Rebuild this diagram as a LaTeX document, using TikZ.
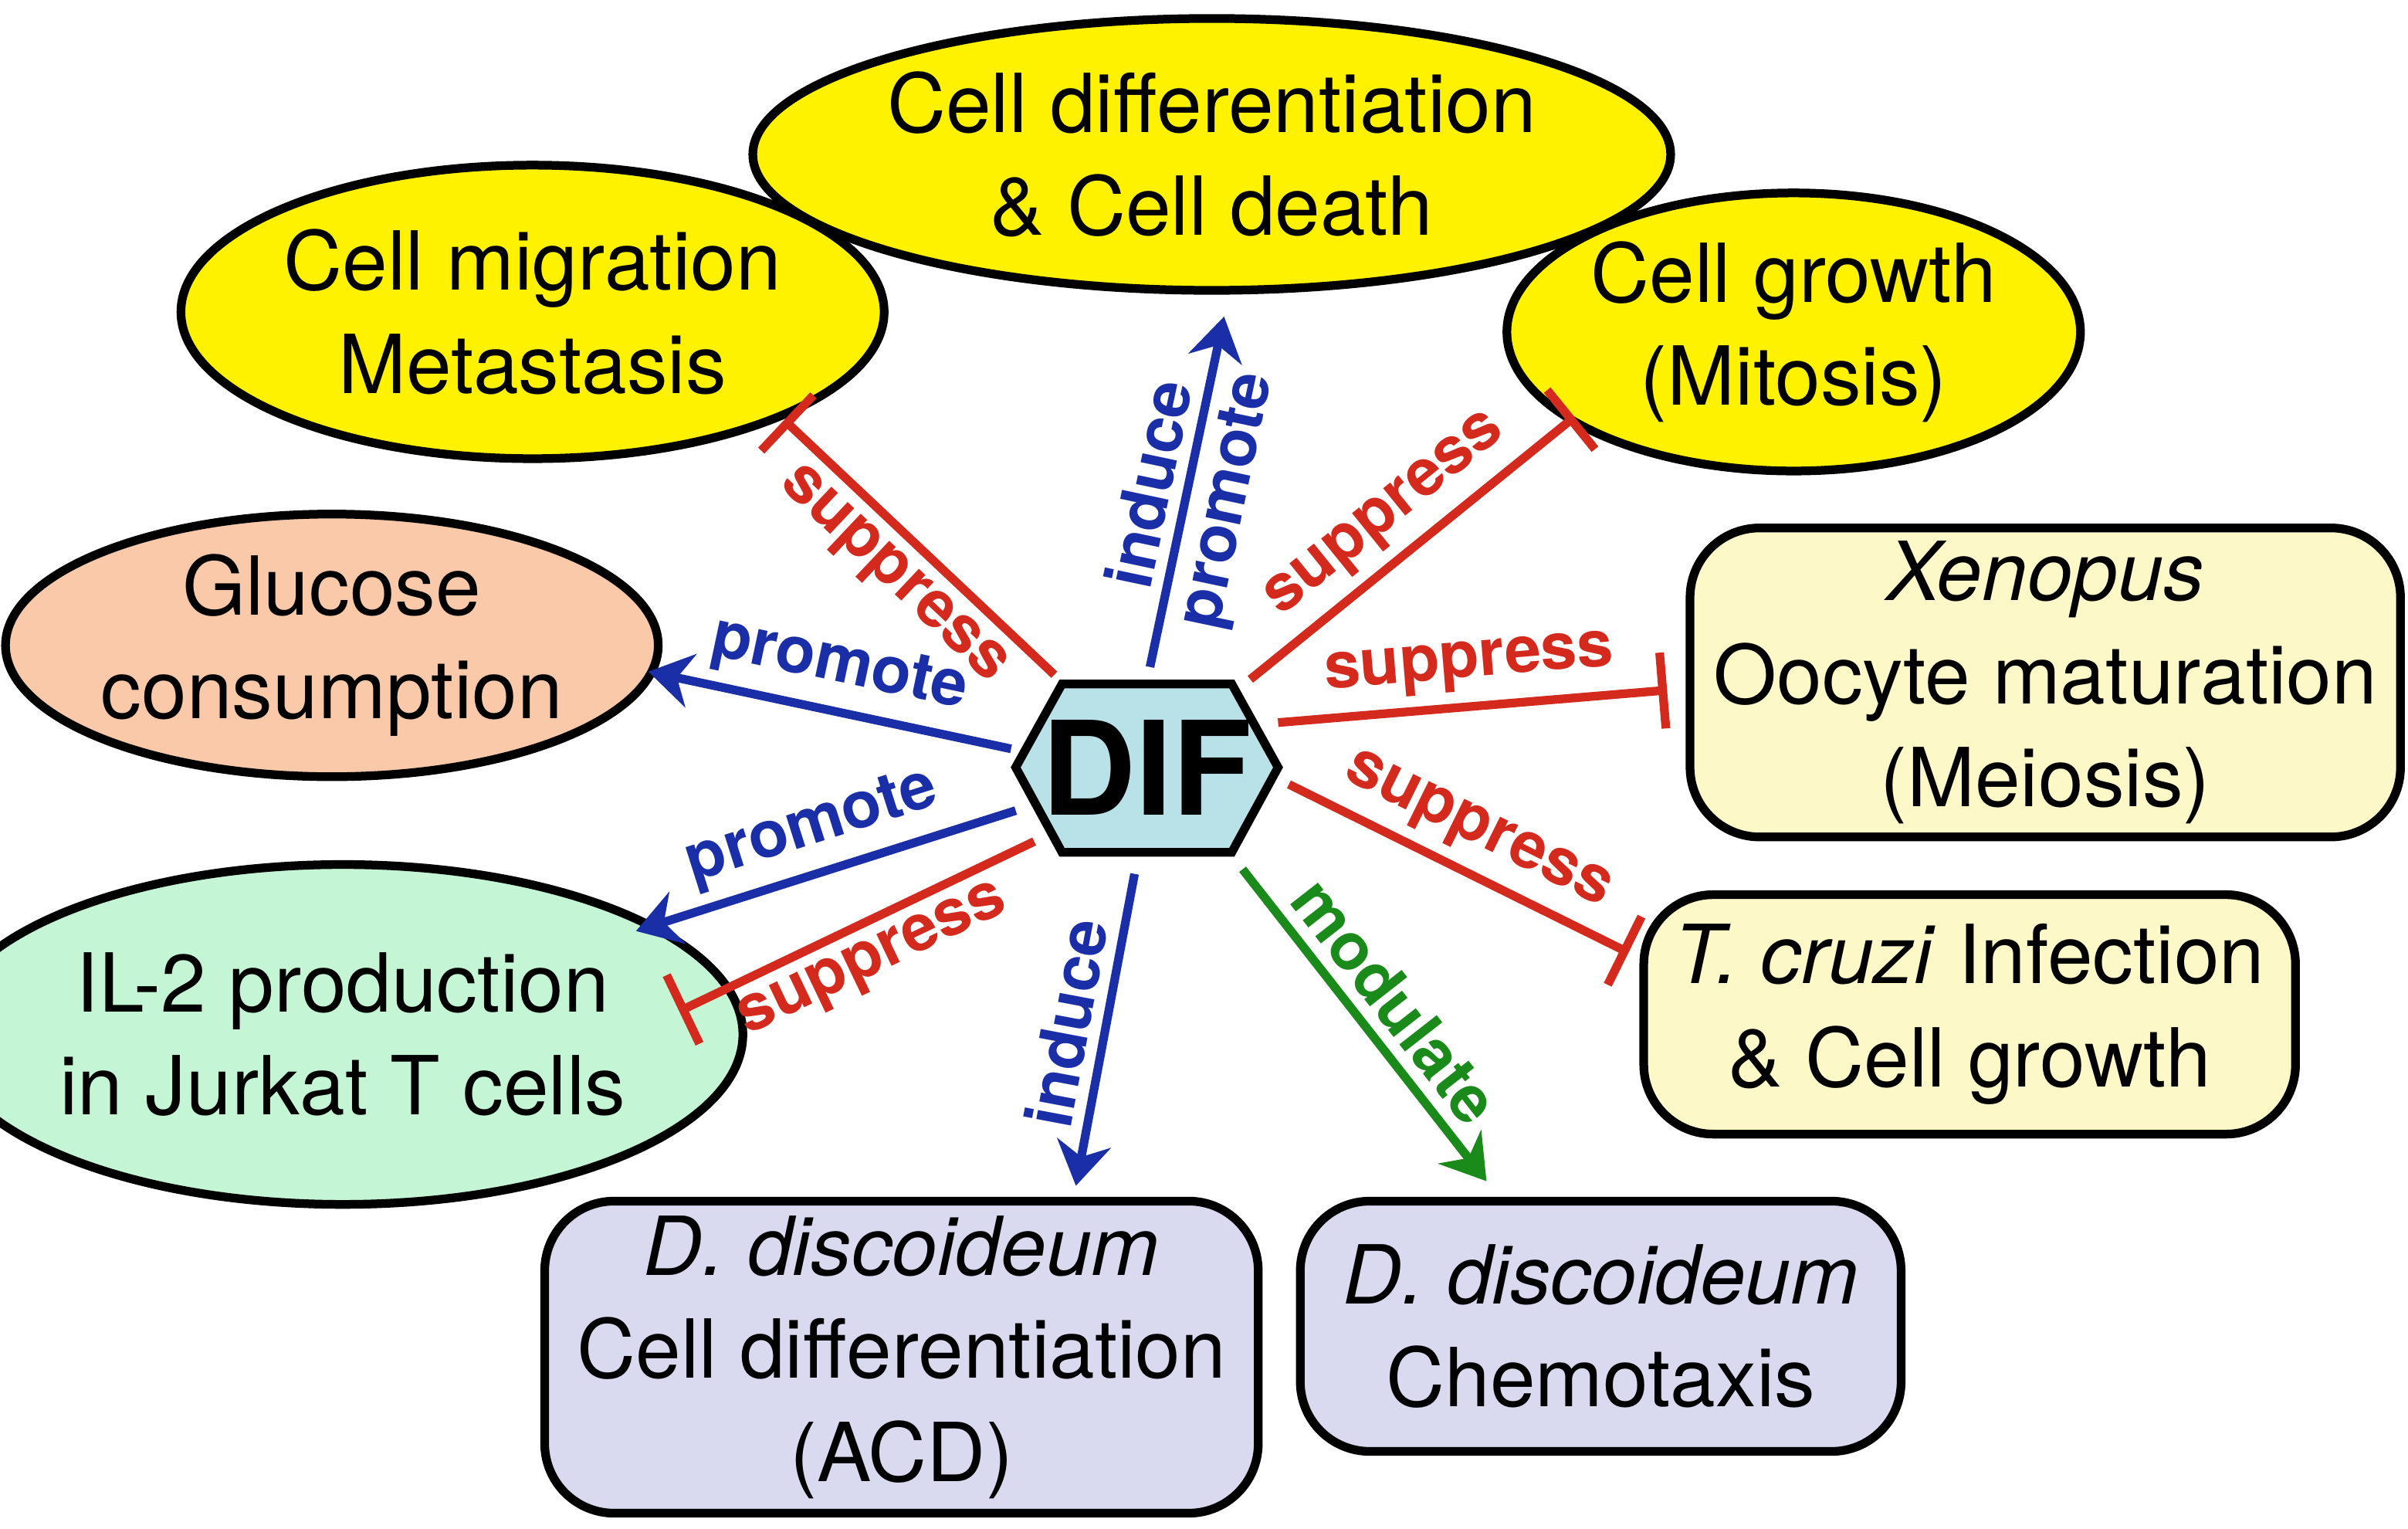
\documentclass[tikz,border=0pt]{standalone}
\usepackage{fontspec}
\setmainfont{TeX Gyre Heros}
\usetikzlibrary{shapes,arrows,arrows.meta,positioning,calc}
\definecolor{supred}{HTML}{D42A1E}
\definecolor{problue}{HTML}{1A2EA8}
\definecolor{modgreen}{HTML}{1A8A1A}
\tikzset{
oval/.style = {draw, ellipse, line width=1.6pt, inner sep=0pt, align=center, font=\fontsize{15}{19}\selectfont},
box/.style = {draw, rectangle, rounded corners=0.45cm, line width=1.6pt, inner sep=0pt, align=center, font=\fontsize{15}{19}\selectfont},
tmp/.style = {coordinate},
act/.style = {line width=1.6pt, -{Stealth[length=8pt,width=10pt]}},
inh/.style = {line width=1.6pt, supred, -{Bar[width=14pt]}},
lbl/.style = {sloped, font=\bfseries\fontsize{12}{14}\selectfont, inner sep=2pt}
}
\begin{document}
\begin{tikzpicture}[x=0.01cm, y=-0.01cm]
\useasboundingbox (0,0) rectangle (1560,990);
% targets
\node[oval, fill=yellow, minimum width=4.00cm, minimum height=1.90cm] (mig) at (345,202) {Cell migration\\Metastasis};
\node[oval, fill=yellow, minimum width=5.10cm, minimum height=1.76cm] (diff) at (785,100) {Cell differentiation\\\& Cell death};
\node[oval, fill=yellow, minimum width=3.34cm, minimum height=1.80cm] (grow) at (1162,215) {Cell growth\\(Mitosis)};
\node[oval, fill={rgb,255:red,249;green,201;blue,169}, minimum width=3.80cm, minimum height=1.70cm] (glu) at (215,418) {Glucose\\consumption};
\node[oval, fill={rgb,255:red,196;green,245;blue,212}, minimum width=4.24cm, minimum height=2.20cm] (il) at (222,670) {IL-2 production\\in Jurkat T cells};
\node[box, fill={rgb,255:red,253;green,248;blue,200}, minimum width=4.60cm, minimum height=2.00cm] (xen) at (1325,442) {\textit{Xenopus}\\Oocyte maturation\\(Meiosis)};
\node[box, fill={rgb,255:red,253;green,248;blue,200}, minimum width=4.22cm, minimum height=1.55cm] (cruzi) at (1276,657) {\textit{T. cruzi} Infection\\\& Cell growth};
\node[box, fill={rgb,255:red,217;green,217;blue,240}, minimum width=4.62cm, minimum height=2.02cm] (acd) at (584,879) {\textit{D. discoideum}\\Cell differentiation\\(ACD)};
\node[box, fill={rgb,255:red,217;green,217;blue,240}, minimum width=3.89cm, minimum height=1.62cm] (chemo) at (1037,859) {\textit{D. discoideum}\\Chemotaxis};
% DIF
\draw[line width=1.6pt, fill={rgb,255:red,185;green,226;blue,232}] (658,497) -- (688,443) -- (798,443) -- (828,497) -- (798,552) -- (688,552) -- cycle;
\node[font=\bfseries\fontsize{24}{28}\selectfont] (dif) at (743,497) {DIF};
% ends
\coordinate (e1) at (508,272);
\coordinate (e2) at (793,205);
\coordinate (e3) at (1020,270);
\coordinate (e4) at (420,435);
\coordinate (e5) at (1080,447);
\coordinate (e6) at (1055,617);
\coordinate (e7) at (412,603);
\coordinate (e8) at (440,655);
\coordinate (e9) at (697,768);
\coordinate (e10) at (963,765);
\coordinate (s1) at (683,437);
\coordinate (s2) at (745,432);
\coordinate (s3) at (810,440);
\coordinate (s4) at (655,485);
\coordinate (s5) at (828,468);
\coordinate (s6) at (835,508);
\coordinate (s7) at (658,525);
\coordinate (s8) at (670,545);
\coordinate (s9) at (735,566);
\coordinate (s10) at (805,563);
% connectors
\draw[inh] (s1) -- node[lbl, below, text=supred] {suppress} (e1);
\draw[act, problue] (s2) -- node[lbl, above] {induce} node[lbl, below] {promote} (e2);
\draw[inh] (s3) -- node[lbl, above, text=supred] {suppress} (e3);
\draw[act, problue] (s4) -- node[lbl, above] {promote} (e4);
\draw[inh] (s5) -- node[lbl, above, text=supred] {suppress} (e5);
\draw[inh] (s6) -- node[lbl, above, text=supred] {suppress} (e6);
\draw[act, problue] (s7) -- node[lbl, above] {promote} (e7);
\draw[inh] (s8) -- node[lbl, below, text=supred] {suppress} (e8);
\draw[act, problue] (s9) -- node[lbl, above] {induce} (e9);
\draw[act, modgreen] (s10) -- node[lbl, above] {modulate} (e10);
\end{tikzpicture}
\end{document}
